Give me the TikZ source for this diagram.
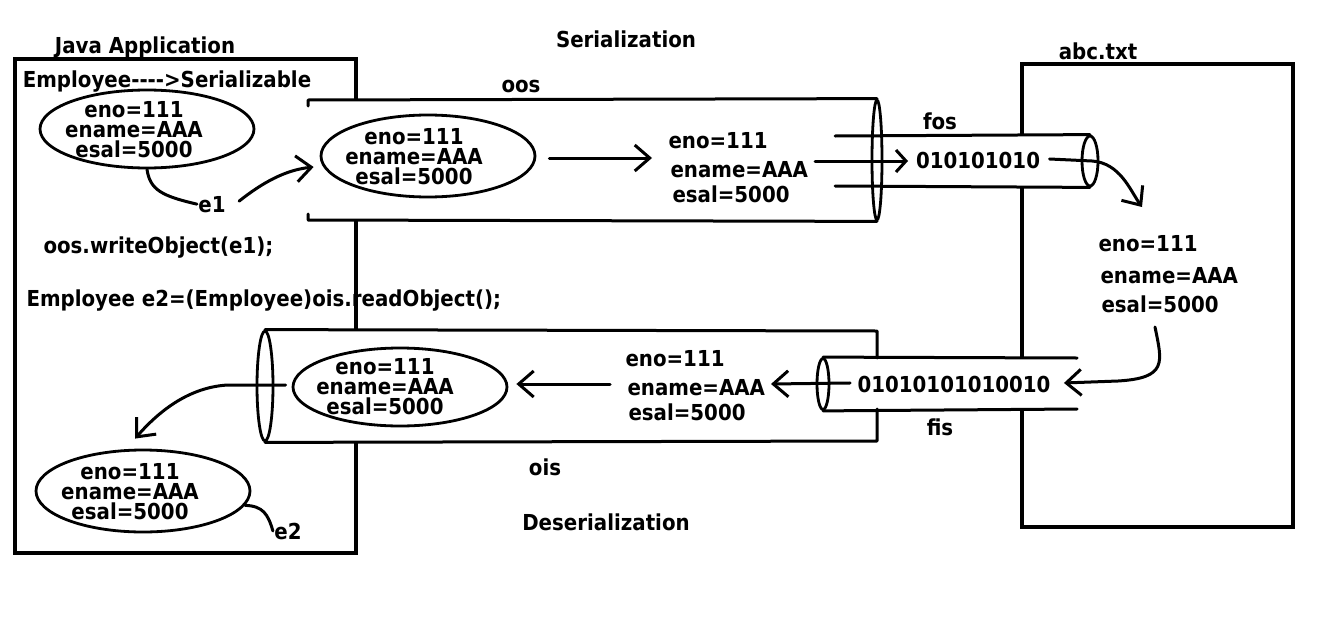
\documentclass[tikz,border=0pt]{standalone}
\usepackage{fontspec}
\newfontfamily\dvs[FakeStretch=0.9]{DejaVu Sans}
\usetikzlibrary{arrows.meta,shapes.geometric}
\begin{document}
\begin{tikzpicture}[x=1pt,y=-1pt,line width=3pt,line cap=round,line join=round,
  >={Straight Barb[length=15pt,width=26pt]},
  txt/.style={font=\dvs\bfseries\fontsize{22}{20}\selectfont,inner sep=0pt},
  objtxt/.style={txt,align=center},
  obj/.style={draw,ellipse,line width=2.8pt,inner sep=0pt,minimum width=214pt},
  pend/.style={draw,ellipse,line width=2.8pt,inner sep=0pt},
  frame/.style={line width=3.5pt,line join=miter,line cap=butt}]
\useasboundingbox[fill=white] (0,0) rectangle (1327,629);

% application and file boxes
\draw[frame] (15,59) rectangle (356,553);
\draw[frame] (1022,64) rectangle (1293,527);

% pipe interiors hide the box edges
\fill[white] (308,100) rectangle (877,220);
\fill[white] (835,136) rectangle (1090,186);
\fill[white] (265,331) rectangle (877,441);
\fill[white] (823,358) rectangle (1077,409);

% pipe ends
\node[pend,minimum width=10pt,minimum height=120pt] (tEnd) at (877,160) {};
\node[pend,minimum width=16pt,minimum height=50pt] (fosEnd) at (1090,161) {};
\node[pend,minimum width=12pt,minimum height=51pt] (fisEnd) at (823,384) {};
\node[pend,minimum width=16pt,minimum height=110pt] (bEnd) at (265,386) {};

% pipe walls
\draw (308,106) -- (308,100) -- (tEnd.north);
\draw (308,214) -- (308,220) -- (tEnd.south);
\draw (835,136) -- (fosEnd.north);
\draw (835,186) -- (fosEnd.south);
\draw (fisEnd.north) -- (1077,358);
\draw (fisEnd.south) -- (1077,409);
\draw (bEnd.north) -- (877,331) -- (877,358);
\draw (bEnd.south) -- (877,441) -- (877,409);

% titles and labels
\node[txt,anchor=base] (jv) at (145,53) {Java Application};
\node[txt,anchor=base] (ser) at (626,47) {Serialization};
\node[txt,anchor=base] (oos) at (521,92) {oos};
\node[txt,anchor=base] (abc) at (1098,59) {abc.txt};
\node[txt,anchor=base] (emp) at (167,87) {Employee----{>}Serializable};
\node[txt,anchor=base] (fos) at (940,129) {fos};
\node[txt,anchor=base] (bits1) at (978,168) {010101010};
\node[txt,anchor=base] (bits2) at (954,392) {01010101010010};
\node[txt,anchor=base] (fis) at (940,435) {fis};
\node[txt,anchor=base] (ois) at (545,475) {ois};
\node[txt,anchor=base] (des) at (606,530) {Deserialization};
\node[txt,anchor=base west] (wr) at (42,253) {oos.writeObject(e1);};
\node[txt,anchor=base west] (rd) at (25,306) {Employee e2=(Employee)ois.readObject();};
\node[txt,anchor=base] (e1l) at (212,212) {e1};
\node[txt,anchor=base] (e2l) at (288,539) {e2};

% serialized object texts
\node[txt,anchor=base west] (m1) at (667,148) {eno=111};
\node[txt,anchor=base west] (m2) at (669,177) {ename=AAA};
\node[txt,anchor=base west] (m3) at (671,202) {esal=5000};
\node[txt,anchor=base west] (r1t) at (1097,251) {eno=111};
\node[txt,anchor=base west] (r2t) at (1099,283) {ename=AAA};
\node[txt,anchor=base west] (r3t) at (1100,312) {esal=5000};
\node[txt,anchor=base west] (n1) at (624,366) {eno=111};
\node[txt,anchor=base west] (n2) at (626,395) {ename=AAA};
\node[txt,anchor=base west] (n3) at (627,420) {esal=5000};

% objects
\node[obj,minimum height=78pt] (o1) at (147,129) {};
\node[obj,minimum height=82pt] (o2) at (428,156) {};
\node[obj,minimum height=78pt] (o3) at (400,387) {};
\node[obj,minimum height=82pt] (o4) at (143,491) {};
\node[objtxt] (o1t) at (134,130) {eno=111\\ename=AAA\\esal=5000};
\node[objtxt] (o2t) at (414,157) {eno=111\\ename=AAA\\esal=5000};
\node[objtxt] (o3t) at (385,387) {eno=111\\ename=AAA\\esal=5000};
\node[objtxt] (o4t) at (130,492) {eno=111\\ename=AAA\\esal=5000};

% free ends
\coordinate (a1) at (652,158);
\coordinate (s1) at (815,161);
\coordinate (a2) at (908,161);
\coordinate (r1) at (1142,207);
\coordinate (r2) at (1155,327);
\coordinate (a3) at (771,384);
\coordinate (s3) at (610,384);

% connectors
\draw (o1.south) .. controls (150,190) and (162,196) .. (e1l.west);
\draw[->] ([shift={(12,-3)}]e1l.east) .. controls (262,183) and (285,170) .. ([shift={(-6,11)}]o2.west);
\draw[->] ([shift={(13,2)}]o2.east) -- (a1);
\draw[->,>={Straight Barb[length=10pt,width=22pt]}] (s1) -- (a2);
\draw[->] ([shift={(8,-1)}]bits1.east) -- (1092,161) .. controls (1120,163) and (1130,190) .. (r1);
\draw[->] (r2) .. controls (1162,362) and (1168,378) .. (1118,381) -- ([shift={(12,-1)}]bits2.east);
\draw[->] ([shift={(-6,-1)}]bits2.west) -- (a3);
\draw[->] (s3) -- ([shift={(8,-3)}]o3.east);
\draw[->] ([shift={(-6,-2)}]o3.west) -- (228,385) .. controls (190,387) and (160,410) .. ([shift={(-8,-10)}]o4.north);
\draw (o4.-8) .. controls (263,506) and (268,514) .. (e2l.west);
\end{tikzpicture}
\end{document}
